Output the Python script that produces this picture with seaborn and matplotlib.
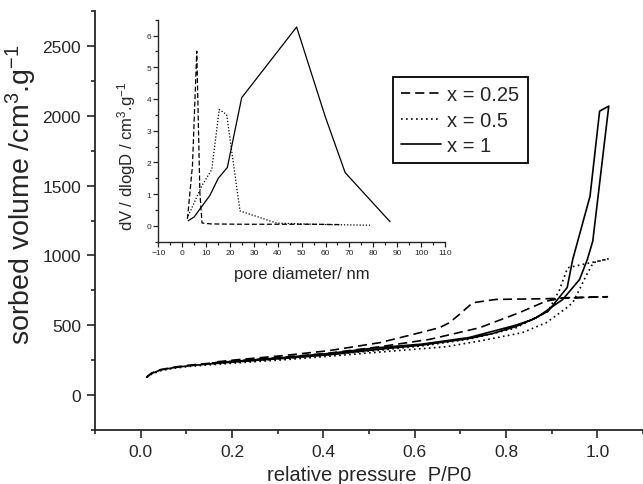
import numpy as np
import pandas as pd
import matplotlib
matplotlib.use('Agg')
import matplotlib.pyplot as plt
from matplotlib.ticker import MultipleLocator
import seaborn as sns

# ---- isotherms: adsorption branch, then desorption branch (closed loop) ----
p_025_ads = [0.013, 0.024, 0.044, 0.075, 0.106, 0.157, 0.208, 0.310, 0.412, 0.523, 0.633, 0.742, 0.829, 0.888, 0.931, 1.022]
v_025_ads = [130, 158, 183, 201, 214, 230, 244, 270, 300, 346, 399, 482, 590, 673, 697, 704]
p_025_des = [0.888, 0.778, 0.727, 0.698, 0.676, 0.654, 0.596, 0.523, 0.412, 0.310, 0.208, 0.157]
v_025_des = [690, 685, 661, 578, 518, 482, 434, 375, 318, 282, 252, 235]

p_05_ads = [0.013, 0.024, 0.044, 0.075, 0.106, 0.157, 0.208, 0.310, 0.412, 0.523, 0.669, 0.742, 0.836, 0.888, 0.928, 0.946, 0.961, 0.975, 0.991, 1.025]
v_05_ads = [125, 150, 175, 193, 205, 218, 230, 252, 278, 308, 346, 387, 447, 518, 613, 661, 757, 852, 948, 976]
p_05_des = [0.935, 0.917, 0.906, 0.892, 0.821, 0.719, 0.616, 0.514, 0.412, 0.310, 0.208, 0.157]
v_05_des = [912, 752, 685, 600, 480, 400, 352, 318, 290, 262, 238, 225]

p_1_ads = [0.013, 0.024, 0.044, 0.075, 0.106, 0.157, 0.208, 0.310, 0.412, 0.514, 0.616, 0.719, 0.770, 0.821, 0.867, 0.924, 0.961, 0.978, 0.990, 1.025]
v_1_ads = [128, 155, 180, 198, 210, 225, 238, 262, 288, 325, 358, 405, 440, 490, 555, 684, 827, 970, 1102, 2069]
p_1_des = [1.005, 0.984, 0.946, 0.934, 0.892, 0.858, 0.821, 0.719, 0.616, 0.514, 0.412, 0.310, 0.208, 0.157]
v_1_des = [2033, 1424, 970, 770, 600, 541, 500, 412, 365, 338, 298, 268, 243, 230]

# ---- pore size distribution (inset) ----
d_025 = [2.2, 4.3, 6.1, 7.4, 8.3, 12, 25, 40, 55, 66]
dv_025 = [0.22, 1.9, 5.51, 1.05, 0.09, 0.06, 0.05, 0.05, 0.05, 0.04]
d_05 = [2.5, 8.2, 12.4, 15.5, 18.6, 24.2, 39.6, 60, 78.6]
dv_05 = [0.31, 1.26, 1.78, 3.67, 3.51, 0.47, 0.085, 0.04, 0.02]
d_1 = [2.5, 5.0, 11.6, 15.1, 18.9, 24.9, 47.9, 59.8, 68.2, 87.0]
dv_1 = [0.16, 0.28, 0.96, 1.5, 1.84, 4.04, 6.27, 3.46, 1.68, 0.13]

labels = ['x = 0.25', 'x = 0.5', 'x = 1']

iso = pd.concat([
    pd.DataFrame({'P': p_025_ads + p_025_des, 'V': v_025_ads + v_025_des, 'sample': labels[0]}),
    pd.DataFrame({'P': p_05_ads + p_05_des, 'V': v_05_ads + v_05_des, 'sample': labels[1]}),
    pd.DataFrame({'P': p_1_ads + p_1_des, 'V': v_1_ads + v_1_des, 'sample': labels[2]}),
], ignore_index=True)

psd = pd.concat([
    pd.DataFrame({'D': d_025, 'dV': dv_025, 'sample': labels[0]}),
    pd.DataFrame({'D': d_05, 'dV': dv_05, 'sample': labels[1]}),
    pd.DataFrame({'D': d_1, 'dV': dv_1, 'sample': labels[2]}),
], ignore_index=True)

sns.set_style('ticks')
plt.rcParams['font.family'] = ['Liberation Sans', 'DejaVu Sans']
plt.rcParams['mathtext.fontset'] = 'custom'
plt.rcParams['mathtext.rm'] = 'Liberation Sans'
plt.rcParams['mathtext.it'] = 'Liberation Sans:italic'

pal = {l: 'black' for l in labels}
dash_main = {labels[0]: (5.5, 3), labels[1]: (1, 2), labels[2]: ''}
dash_ins = {labels[0]: (4, 2), labels[1]: (1, 1.5), labels[2]: ''}

fig = plt.figure(figsize=(6.43, 4.85), dpi=100)
ax = fig.add_axes([95 / 643, 54 / 485, 548 / 643, 419 / 485])
ins = fig.add_axes([158.3 / 643, (485 - 242.7) / 485, 286.7 / 643, 222 / 485])

sns.lineplot(data=iso, x='P', y='V', hue='sample', style='sample', palette=pal,
             dashes=dash_main, sort=False, estimator=None, linewidth=1.2,
             legend=False, ax=ax)

ax.set_xlim(-0.1, 1.1)
ax.set_ylim(-250, 2750)
ax.xaxis.set_major_locator(MultipleLocator(0.2))
ax.xaxis.set_minor_locator(MultipleLocator(0.1))
ax.yaxis.set_major_locator(MultipleLocator(500))
ax.yaxis.set_minor_locator(MultipleLocator(250))
ax.xaxis.set_major_formatter(plt.FuncFormatter(lambda v, p: f'{v:.1f}'))
ax.tick_params(which='major', direction='out', length=6, width=1.2, labelsize=12.5, pad=4)
ax.tick_params(which='minor', direction='out', length=3, width=1.2)
for s in ['left', 'bottom']:
    ax.spines[s].set_linewidth(1.3)
sns.despine(ax=ax)
ax.set_xlabel('relative pressure  P/P0', fontsize=14.5, va='top')
ax.xaxis.set_label_coords(0.5, -0.083)
ax.set_ylabel('sorbed volume /cm$^3$.g$^{-1}$', fontsize=20.5)
ax.yaxis.set_label_coords(-0.102, 0.563)

sns.lineplot(data=psd, x='D', y='dV', hue='sample', style='sample', palette=pal,
             dashes=dash_ins, sort=False, estimator=None, linewidth=0.9, legend=False, ax=ins)
ins.set_xlim(-10, 110)
ins.set_ylim(-0.5, 6.5)
ins.xaxis.set_major_locator(MultipleLocator(10))
ins.xaxis.set_minor_locator(MultipleLocator(5))
ins.yaxis.set_major_locator(MultipleLocator(1))
ins.yaxis.set_minor_locator(MultipleLocator(0.5))
ins.tick_params(which='major', direction='out', length=3.5, width=0.9, labelsize=6, pad=1.5)
ins.tick_params(which='minor', direction='out', length=2, width=0.9)
for s in ['left', 'bottom']:
    ins.spines[s].set_linewidth(1.0)
sns.despine(ax=ins)
ins.patch.set_visible(False)
ins.set_xlabel('pore diameter/ nm', fontsize=12, va='top')
ins.xaxis.set_label_coords(0.5, -0.11)
ins.set_ylabel('dV / dlogD / cm$^3$.g$^{-1}$', fontsize=12)
ins.yaxis.set_label_coords(-0.07, 0.39)

# legend built from the three drawn isotherm lines, drawn above the inset
leg = fig.legend(ax.lines[:3], labels, loc='upper left', bbox_to_anchor=(393 / 643, 1 - 78 / 485),
                 borderaxespad=0, frameon=True, fancybox=False, fontsize=14.5,
                 handlelength=2.0, handletextpad=0.3, labelspacing=0.33, borderpad=0.4)
leg.get_frame().set_edgecolor('black')
leg.get_frame().set_linewidth(1.3)
leg.get_frame().set_alpha(1)
leg.set_zorder(10)

fig.savefig('out.png', dpi=100)
